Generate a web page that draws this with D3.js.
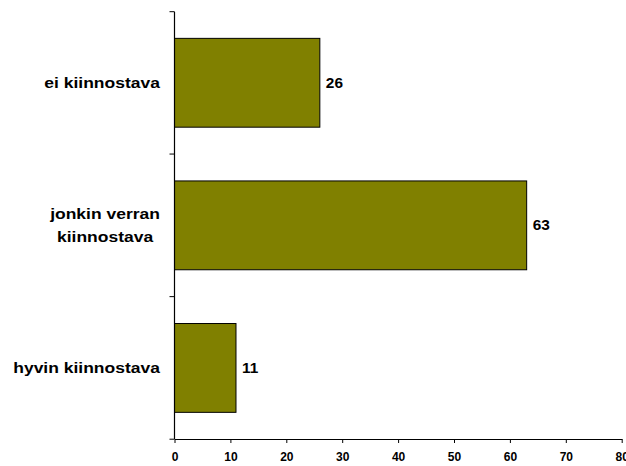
<!DOCTYPE html>
<html><head><meta charset="utf-8">
<script src="https://cdn.jsdelivr.net/npm/d3@7"></script>
<style>body{margin:0;background:#fff}svg{display:block}text{font-family:"Liberation Sans",Arial,sans-serif;font-weight:bold;fill:#000}</style>
</head><body><svg id="c" width="626" height="466"></svg>
<script>
const categories = ["ei kiinnostava", "jonkin verran|kiinnostava", "hyvin kiinnostava"];
const values = [26, 63, 11];
const xTicks = [0, 10, 20, 30, 40, 50, 60, 70, 80];

(function () {
const svg = d3.select("#c");
const mLeft = 174.5, mRight = 621.7, mTop = 11.7, mBottom = 439;
const x = d3.scaleLinear().domain([0, 80]).range([mLeft, mRight]);
const y = d3.scaleBand().domain(categories).range([mTop, mBottom]).paddingInner(0.377).paddingOuter(0.187);

// bars
svg.selectAll("rect.bar").data(categories).join("rect")
  .attr("x", x(0)).attr("y", d => y(d))
  .attr("width", (d, i) => x(values[i]) - x(0)).attr("height", y.bandwidth())
  .attr("fill", "#808000").attr("stroke", "#000").attr("stroke-width", 1);

// value labels
svg.selectAll("text.val").data(categories).join("text")
  .attr("transform", (d, i) => `translate(${x(values[i]) + 6},${y(d) + y.bandwidth() / 2}) scale(1.1,1)`)
  .attr("dy", "0.35em").attr("font-size", 14).text((d, i) => values[i]);

// y axis line + ticks at band boundaries
svg.append("line").attr("x1", x(0)).attr("x2", x(0)).attr("y1", mTop).attr("y2", mBottom)
  .attr("stroke", "#000").attr("stroke-width", 1.2);
const step = y.step();
const bounds = [mTop].concat(categories.map(c => y(c) + y.bandwidth() + (step - y.bandwidth()) / 2));
svg.selectAll("line.yt").data(bounds).join("line")
  .attr("x1", x(0) - 5).attr("x2", x(0)).attr("y1", d => d).attr("y2", d => d)
  .attr("stroke", "#000").attr("stroke-width", 1);

// category labels
const catRight = 160, SX = 1.25, lh = 22.5;
categories.forEach(c => {
  const lines = c.split("|");
  const g = svg.append("g");
  const texts = lines.map(l => g.append("text").attr("font-size", 14).attr("text-anchor", "middle").text(l));
  const w = d3.max(texts, t => t.node().getComputedTextLength()) * SX;
  const cx = catRight - w / 2;
  const cy = y(c) + y.bandwidth() / 2;
  texts.forEach((t, i) => {
    t.attr("transform", `translate(${cx},${cy + (i - (lines.length - 1) / 2) * lh}) scale(${SX},1)`).attr("dy", "0.35em");
  });
});

// x axis
const xa = svg.append("g").attr("transform", `translate(0,${mBottom})`)
  .call(d3.axisBottom(x).tickValues(xTicks).tickSize(4).tickPadding(9).tickSizeOuter(0));
xa.select(".domain").attr("stroke", "#000").attr("stroke-width", 1.2);
xa.selectAll(".tick line").attr("stroke", "#000");
xa.selectAll(".tick text").attr("font-size", 12).attr("font-family", '"Liberation Sans",Arial,sans-serif')
  .attr("font-weight", "bold").attr("fill", "#000");
})();
</script></body></html>
